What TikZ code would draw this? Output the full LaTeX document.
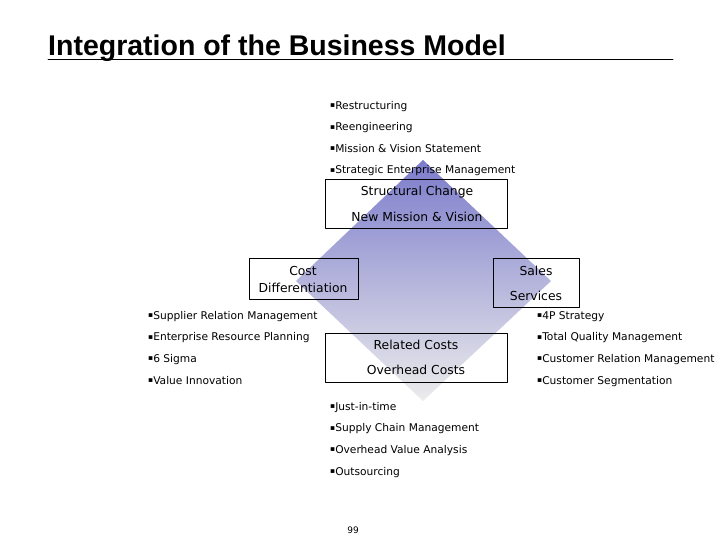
\documentclass[tikz,border=0pt]{standalone}
\usepackage{fontspec}
\setmainfont{DejaVu Sans}
\newfontfamily\titlefont{Liberation Sans}
\usetikzlibrary{positioning,calc}
\definecolor{diamondtop}{RGB}{124,124,204}
\definecolor{diamondmid}{RGB}{168,168,210}
\definecolor{diamondbot}{RGB}{236,236,236}
% small square bullet
\newcommand{\lbul}{\raisebox{1.6pt}{\fontsize{7.5}{8}\selectfont ▪}}

\begin{document}
\begin{tikzpicture}[
		x=1bp,
		y=-1bp,
		line cap=round,
		line join=round,
		areabox/.style={draw=black,line width=0.8bp,inner sep=0pt},
		boxtext/.style={font=\fontsize{12.4}{25.5}\selectfont,align=center,inner sep=0pt},
		listtext/.style={font=\fontsize{10.7}{21.7}\selectfont,align=left,anchor=base west,inner sep=0pt},
		pagetitle/.style={font=\titlefont\bfseries\fontsize{28.6}{30}\selectfont,anchor=base west,inner sep=0pt}
	]
	
	% Page frame
	\useasboundingbox (0,0) rectangle (720,540);
	
	% Title
	\node[pagetitle] (title) at (48,56) {Integration of the Business Model};
	\coordinate (rulestart) at (48,59.5);
	\coordinate (ruleend) at (673,59.5);
	\draw[line width=0.9bp] (rulestart) -- (ruleend);
	
	% Shaded diamond
	\coordinate (dtop) at (423,160);
	\coordinate (dright) at (551,281);
	\coordinate (dbot) at (423,401);
	\coordinate (dleft) at (296,281);
	\shade[top color=diamondtop,middle color=diamondmid,bottom color=diamondbot]
	(dtop) -- (dright) -- (dbot) -- (dleft) -- cycle;
	
	% Boxes
	\draw[areabox] (325,179) rectangle (507,228);
	\draw[areabox] (249,258) rectangle (358,299);
	\draw[areabox] (493,258) rectangle (579,307);
	\draw[areabox] (325,333) rectangle (507,382);
	
	% Box texts
	\node[boxtext] (structural) at (417,204) {Structural Change\\New Mission \& Vision};
	\node[boxtext,font=\fontsize{12.4}{17}\selectfont] (cost) at (303,279.5) {Cost\\Differentiation};
	\node[boxtext] (sales) at (536,283.5) {Sales\\Services};
	\node[boxtext] (related) at (416,357.5) {Related Costs\\Overhead Costs};
	
	% Lists (anchored at the last line)
	\node[listtext] (toplist) at (330,174)
	{\lbul Restructuring\\\lbul Reengineering\\\lbul Mission \& Vision Statement\\\lbul Strategic Enterprise Management};
	\node[listtext] (leftlist) at (148,384)
	{\lbul Supplier Relation Management\\\lbul Enterprise Resource Planning\\\lbul 6 Sigma\\\lbul Value Innovation};
	\node[listtext] (rightlist) at (537,384)
	{\lbul 4P Strategy\\\lbul Total Quality Management\\\lbul Customer Relation Management\\\lbul Customer Segmentation};
	\node[listtext] (bottomlist) at (330,475)
	{\lbul Just-in-time\\\lbul Supply Chain Management\\\lbul Overhead Value Analysis\\\lbul Outsourcing};
	
	% Page number
	\node[font=\fontsize{9}{10}\selectfont] (pagenum) at (353,530) {99};
	
\end{tikzpicture}
\end{document}
